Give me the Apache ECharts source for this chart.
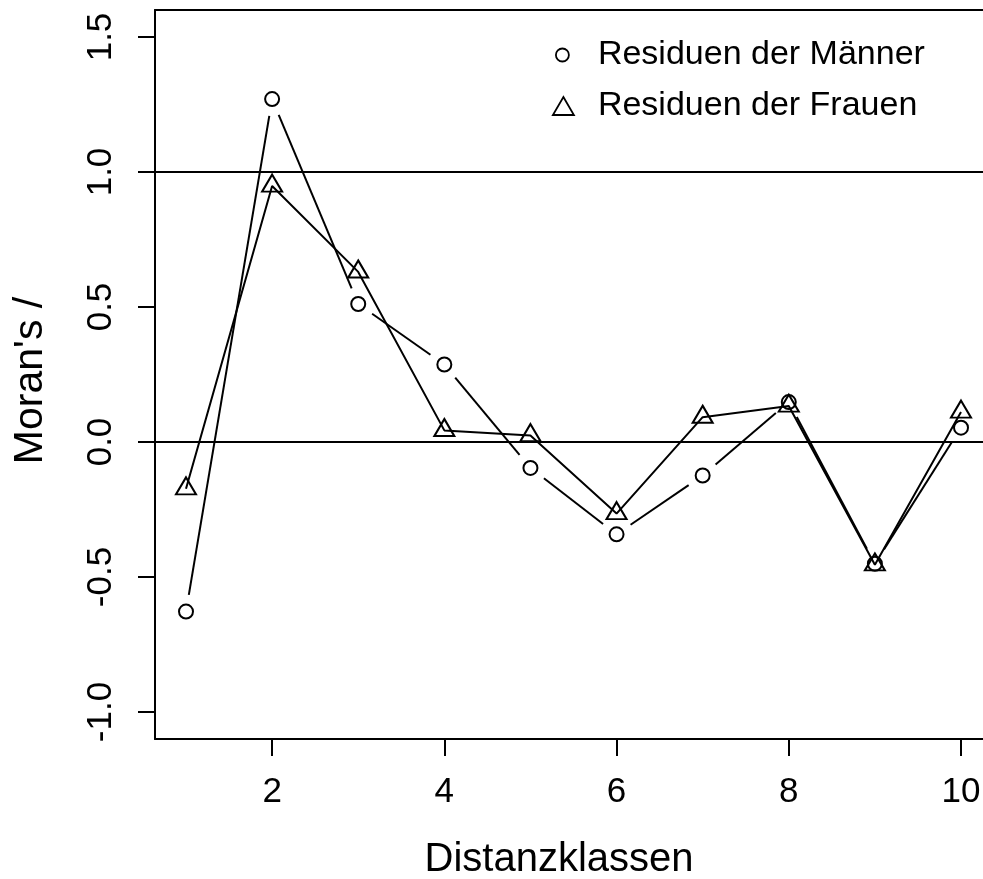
<!DOCTYPE html>
<html>
<head>
<meta charset="utf-8">
<script src="https://cdn.jsdelivr.net/npm/echarts@6/dist/echarts.min.js"></script>
<style>
  html, body { margin: 0; padding: 0; background: #fff; }
  #chart { width: 983px; height: 879px; }
</style>
</head>
<body>
<div id="chart"></div>
<script>
// ---- data ----
const classes = [1, 2, 3, 4, 5, 6, 7, 8, 9, 10];
const men   = [-0.628, 1.270, 0.511, 0.287, -0.096, -0.342, -0.124, 0.148, -0.451, 0.053];
const women = [-0.173, 0.948, 0.630, 0.043, 0.024, -0.265, 0.092, 0.133, -0.455, 0.111];
const xTicks = [2, 4, 6, 8, 10];
const yTicks = [-1.0, -0.5, 0.0, 0.5, 1.0, 1.5];
const refLines = [0, 1];
const menName = 'Residuen der Männer';
const womenName = 'Residuen der Frauen';
const xTitle = 'Distanzklassen';
const yTitle = "Moran's /";

// ---- chart ----
const FONT = 'Liberation Sans, Arial, Helvetica, sans-serif';
const chart = echarts.init(document.getElementById('chart'), null, { renderer: 'canvas' });

const menPts = classes.map((c, i) => [c, men[i]]);
const womenPts = classes.map((c, i) => [c, women[i]]);
const GAP = 17;
const LW = 2;
const XMIN = 0.64, XMAX = 10.36, YMIN = -1.1, YMAX = 1.6;

const option = {
  animation: false,
  backgroundColor: '#fff',
  grid: {
    left: 155, top: 10, width: 837, height: 729,
    outerBoundsMode: 'none',
    containLabel: false,
    show: false
  },
  legend: [
    {
      data: [{ name: menName, icon: 'circle' }],
      orient: 'vertical', left: 555, top: 38, padding: 0,
      itemWidth: 13, itemHeight: 13,
      selectedMode: false,
      itemStyle: { borderWidth: 1.8 },
      textStyle: { fontFamily: FONT, fontSize: 34, color: '#000', padding: [0, 0, 0, 24] }
    },
    {
      data: [{ name: womenName, icon: 'triangle' }],
      orient: 'vertical', left: 552, top: 89, padding: 0,
      itemWidth: 21, itemHeight: 18,
      selectedMode: false,
      itemStyle: { borderWidth: 1.8 },
      textStyle: { fontFamily: FONT, fontSize: 34, color: '#000', padding: [0, 0, 0, 19] }
    }
  ],
  xAxis: [
    {
      type: 'value', min: XMIN, max: XMAX, position: 'bottom',
      name: xTitle, nameLocation: 'middle', nameGap: 101,
      nameTextStyle: { fontFamily: FONT, fontSize: 40, color: '#000', padding: [0, 29, 0, 0] },
      axisLine: { show: true, onZero: false, lineStyle: { color: '#000', width: LW } },
      splitLine: { show: false },
      axisTick: { show: true, inside: false, length: 17, customValues: xTicks,
                  lineStyle: { color: '#000', width: LW } },
      axisLabel: { customValues: xTicks, margin: 36, fontFamily: FONT, fontSize: 35, color: '#000',
                   formatter: v => String(v) }
    },
    {
      type: 'value', min: XMIN, max: XMAX, position: 'top',
      axisLine: { show: true, onZero: false, lineStyle: { color: '#000', width: LW } },
      splitLine: { show: false }, axisTick: { show: false }, axisLabel: { show: false }
    }
  ],
  yAxis: {
    type: 'value', min: YMIN, max: YMAX,
    name: yTitle, nameLocation: 'middle', nameGap: 104,
    nameTextStyle: { fontFamily: FONT, fontSize: 41, color: '#000', padding: [0, 12, 0, 0] },
    axisLine: { show: true, onZero: false, lineStyle: { color: '#000', width: LW } },
    splitLine: { show: false },
    axisTick: { show: true, inside: false, length: 17, customValues: yTicks,
                lineStyle: { color: '#000', width: LW } },
    axisLabel: { customValues: yTicks, rotate: 90, margin: 36, fontFamily: FONT, fontSize: 35, color: '#000',
                 formatter: v => Number(v).toFixed(1) }
  },
  series: [
    {
      name: 'men-lines',
      type: 'custom',
      data: menPts,
      silent: true,
      renderItem: function (params, api) {
        const i = params.dataIndex;
        if (i >= menPts.length - 1) return null;
        const p0 = api.coord(menPts[i]);
        const p1 = api.coord(menPts[i + 1]);
        const dx = p1[0] - p0[0], dy = p1[1] - p0[1];
        const len = Math.hypot(dx, dy);
        if (len <= 2 * GAP) return null;
        const ux = dx / len, uy = dy / len;
        return {
          type: 'line',
          shape: { x1: p0[0] + ux * GAP, y1: p0[1] + uy * GAP, x2: p1[0] - ux * GAP, y2: p1[1] - uy * GAP },
          style: { stroke: '#000', lineWidth: LW }
        };
      },
      markLine: {
        silent: true, symbol: 'none', label: { show: false },
        lineStyle: { color: '#000', width: LW, type: 'solid' },
        data: refLines.map(v => ({ yAxis: v }))
      }
    },
    {
      name: 'women-lines',
      type: 'line',
      data: womenPts,
      showSymbol: false,
      silent: true,
      lineStyle: { color: '#000', width: LW }
    },
    {
      name: menName,
      type: 'scatter',
      data: menPts,
      symbol: 'circle',
      symbolSize: 14,
      itemStyle: { color: 'rgba(0,0,0,0)', borderColor: '#000', borderWidth: LW, opacity: 1 }
    },
    {
      name: womenName,
      type: 'scatter',
      data: womenPts,
      symbol: 'triangle',
      symbolSize: [20, 17],
      symbolOffset: [0, -2.9],
      symbolKeepAspect: false,
      itemStyle: { color: 'rgba(0,0,0,0)', borderColor: '#000', borderWidth: LW, opacity: 1 }
    }
  ]
};
chart.setOption(option);
</script>
</body>
</html>
